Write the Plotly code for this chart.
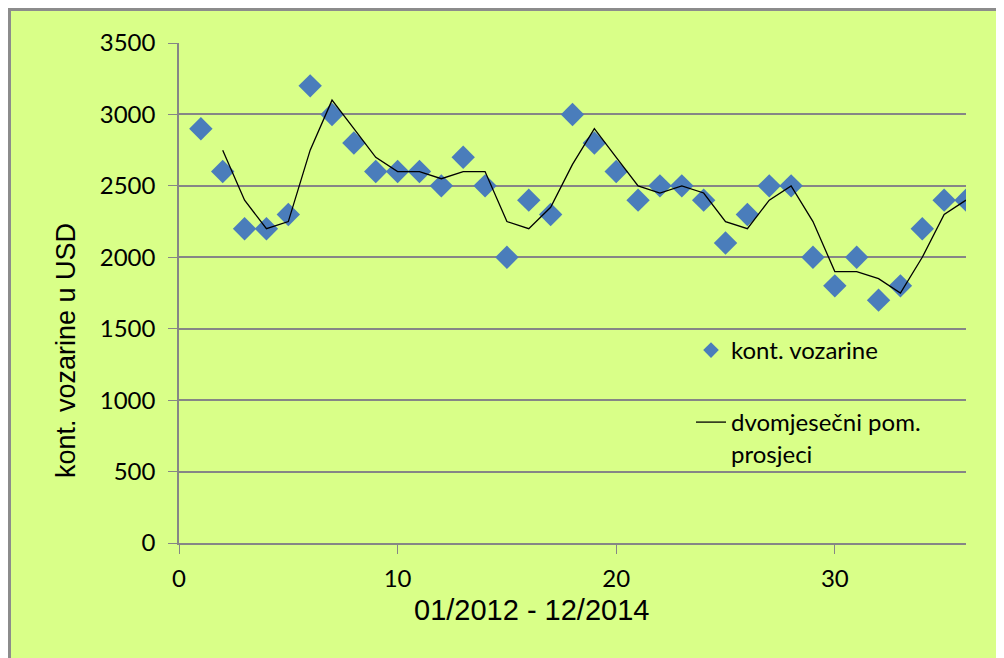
import plotly.graph_objects as go

months = list(range(1, 37))
vozarine = [2900, 2600, 2200, 2200, 2300, 3200, 3000, 2800, 2600, 2600, 2600, 2500,
            2700, 2500, 2000, 2400, 2300, 3000, 2800, 2600, 2400, 2500, 2500, 2400,
            2100, 2300, 2500, 2500, 2000, 1800, 2000, 1700, 1800, 2200, 2400, 2400]
ma_months = list(range(2, 37))
pom_prosjeci = [2750, 2400, 2200, 2250, 2750, 3100, 2900, 2700, 2600, 2600, 2550,
                2600, 2600, 2250, 2200, 2350, 2650, 2900, 2700, 2500, 2450, 2500, 2450,
                2250, 2200, 2400, 2500, 2250, 1900, 1900, 1850, 1750, 2000, 2300, 2400]

x_ticks = [0, 10, 20, 30]
y_ticks = [0, 500, 1000, 1500, 2000, 2500, 3000, 3500]

GRID = "#868686"
BG = "#D9FF88"
BLUE = "#4A7DBB"

OFF = 8  # page body margin
W, H = 996, 650
L, R, T, B = 171, 38, 35, 115
pw = W - L - R
ph = H - T - B

def px(xp):
    return (xp - OFF - L) / pw

def py(yp):
    return (H - B - (yp - OFF)) / ph

fig = go.Figure()
fig.add_trace(go.Scatter(
    x=months, y=vozarine, mode="markers", name="kont. vozarine",
    marker=dict(symbol="diamond", size=18, color=BLUE, line=dict(width=0)),
    legend="legend",
))
fig.add_trace(go.Scatter(
    x=ma_months, y=pom_prosjeci, mode="lines", name="dvomjesečni pom.<br>prosjeci",
    line=dict(color="black", width=1.3),
    legend="legend2",
))

fig.add_shape(type="rect", xref="paper", yref="paper",
              x0=px(9.5), x1=px(1030), y0=py(690), y1=py(9.5),
              fillcolor=BG, line=dict(color="#8C8C8C", width=3), layer="below")

fig.add_annotation(text="01/2012 - 12/2014", xref="paper", yref="paper",
                   x=px(531), y=py(610), showarrow=False,
                   font=dict(family="Liberation Sans, Arial", size=29, color="black"),
                   xanchor="center", yanchor="middle")
fig.add_annotation(text="kont. vozarine u USD", xref="paper", yref="paper",
                   x=px(66), y=py(350), showarrow=False, textangle=-90,
                   font=dict(family="Liberation Sans, Arial", size=27, color="black"),
                   xanchor="center", yanchor="middle")

tickfont = dict(family="Lato, Open Sans, sans-serif", size=24, color="black")
legfont = dict(family="Lato, Open Sans, sans-serif", size=24, color="black")

fig.update_layout(
    width=W, height=H,
    margin=dict(l=L, r=R, t=T, b=B, autoexpand=False),
    paper_bgcolor="white",
    plot_bgcolor="rgba(0,0,0,0)",
    showlegend=True,
    legend=dict(x=px(691), y=py(328), xanchor="left", yanchor="top",
                bgcolor="rgba(0,0,0,0)", font=legfont, itemsizing="constant",
                valign="top"),
    legend2=dict(x=px(691), y=py(400), xanchor="left", yanchor="top",
                 bgcolor="rgba(0,0,0,0)", font=legfont, valign="top"),
    xaxis=dict(range=[0, 36], tickvals=x_ticks, ticks="outside", ticklen=9,
               tickcolor=GRID, showgrid=False, showline=True, linecolor=GRID,
               linewidth=1.5, zeroline=False, tickfont=tickfont, ticklabelstandoff=4),
    yaxis=dict(range=[0, 3500], tickvals=y_ticks, ticks="outside", ticklen=9,
               tickcolor=GRID, showgrid=True, gridcolor=GRID, gridwidth=1.5,
               showline=True, linecolor=GRID, linewidth=1.5, zeroline=False,
               tickfont=tickfont, ticklabelstandoff=8),
)

fig.write_html("out.html")
